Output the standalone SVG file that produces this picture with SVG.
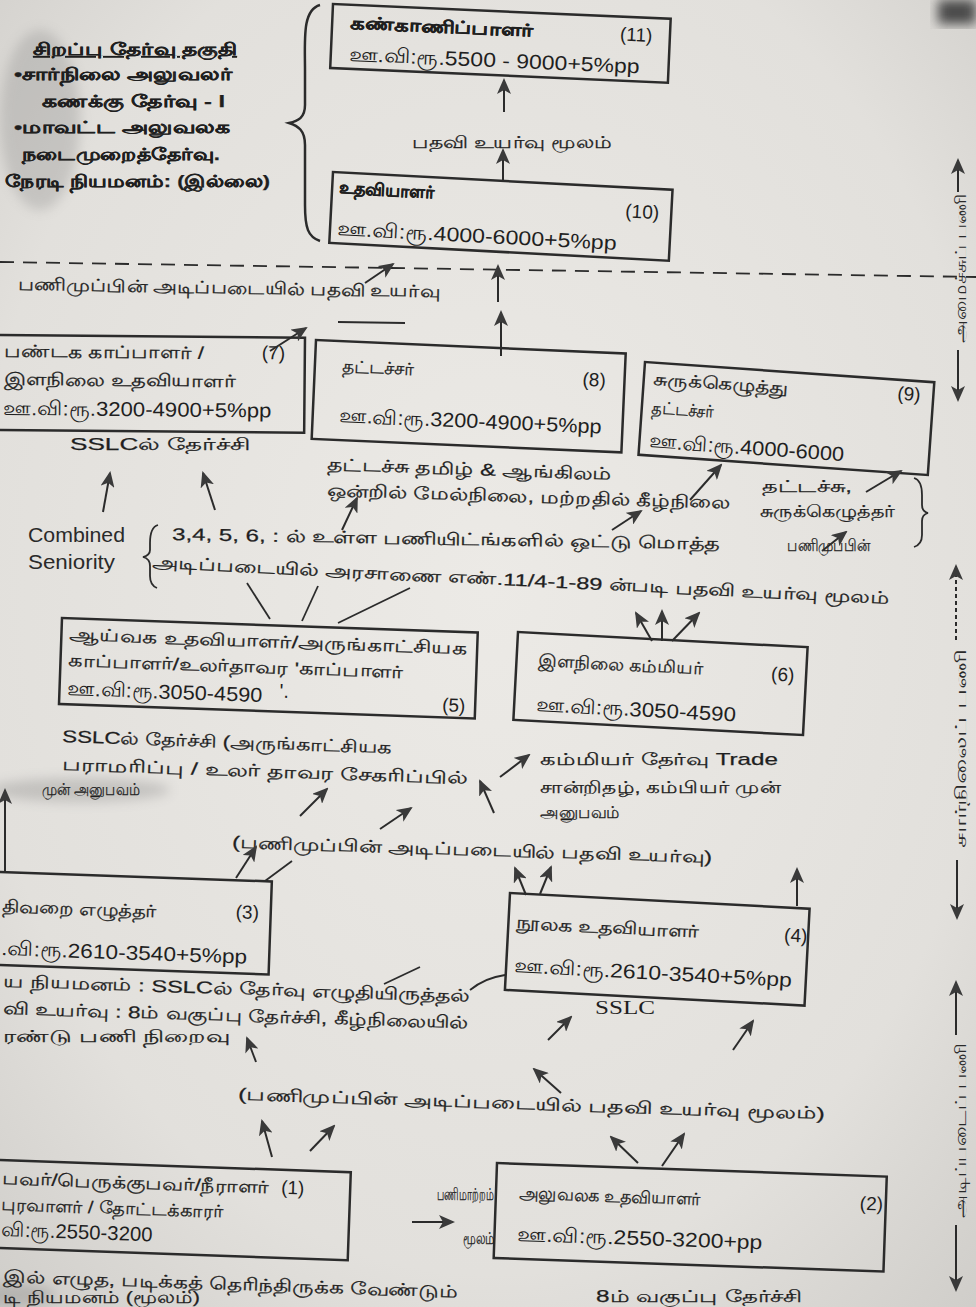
<svg xmlns="http://www.w3.org/2000/svg" width="976" height="1307" viewBox="0 0 976 1307">
<defs>
<radialGradient id="paper" cx="0.5" cy="0.45" r="0.75">
<stop offset="0" stop-color="#eceae6"/>
<stop offset="0.7" stop-color="#e2e0dc"/>
<stop offset="1" stop-color="#cfcdc9"/>
</radialGradient>
<filter id="blur" x="-20%" y="-20%" width="140%" height="140%"><feGaussianBlur stdDeviation="6"/></filter>
<marker id="ah" markerUnits="userSpaceOnUse" markerWidth="16" markerHeight="14" refX="14" refY="7" orient="auto">
<path d="M0,0 L16,7 L0,14 L4,7 Z" fill="#3a3a3a"/>
</marker>
<style>
.t{font-family:"Liberation Sans","Noto Sans",sans-serif;font-size:17px;fill:#1f1f1f;stroke:#1f1f1f;stroke-width:0.25}
.b{font-weight:bold}
.sal{font-family:"Liberation Sans Narrow","Liberation Sans","Noto Sans",sans-serif;font-size:20px;fill:#1f1f1f}
.num{font-family:"Liberation Sans Narrow","Liberation Sans",sans-serif;font-size:19px;fill:#1f1f1f}
.ser{font-family:"Liberation Serif","Noto Sans",serif;font-size:18px;fill:#1f1f1f}
.nar{font-family:"Liberation Sans Narrow","Liberation Sans",sans-serif;font-size:20px;fill:#2a2a2a}
.box{fill:none;stroke:#2b2b2b;stroke-width:2.5}
.arr{stroke:#2b2b2b;stroke-width:2;fill:none;marker-end:url(#ah)}
.ln{stroke:#2b2b2b;stroke-width:1.8;fill:none}
.br{stroke:#2b2b2b;stroke-width:2.5;fill:none}
.vt{font-family:"Liberation Sans","Noto Sans",sans-serif;font-size:16px;fill:#2a2a2a}
</style>
</defs>

<rect x="0" y="0" width="976" height="1307" fill="url(#paper)"/>
<g id="smudges" filter="url(#blur)" opacity="0.25">
<ellipse cx="40" cy="120" rx="40" ry="90" fill="#777"/>
<ellipse cx="80" cy="790" rx="90" ry="12" fill="#666"/>
<ellipse cx="15" cy="1295" rx="40" ry="12" fill="#666"/>
</g>
<rect x="938" y="0" width="38" height="24" fill="#4a4a4a" filter="url(#blur)"/>

<g id="notes">
<text class="t b" x="33" y="55" text-decoration="underline" textLength="204" lengthAdjust="spacingAndGlyphs">சிறப்பு தேர்வு தகுதி</text>
<text class="t b" x="14" y="80" textLength="218" lengthAdjust="spacingAndGlyphs">•சார்நிலை அலுவலர்</text>
<text class="t b" x="42" y="107" textLength="183" lengthAdjust="spacingAndGlyphs">கணக்கு தேர்வு - I</text>
<text class="t b" x="14" y="133" textLength="216" lengthAdjust="spacingAndGlyphs">•மாவட்ட அலுவலக</text>
<text class="t b" x="22" y="160" textLength="198" lengthAdjust="spacingAndGlyphs">நடைமுறைத்தேர்வு.</text>
<text class="t b" x="5" y="187" textLength="265" lengthAdjust="spacingAndGlyphs">நேரடி நியமனம்: (இல்லை)</text>
</g>

<g id="braces">
<path class="br" d="M320,5 C302,10 305,40 305,70 L305,105 C305,118 298,121 289,123 C298,126 305,130 305,145 L305,205 C305,228 308,237 320,241"/>
<path class="ln" d="M158,525 C151,527 150,535 150,543 L150,550 C150,554 147,556 143,557 C147,558 150,561 150,566 L150,576 C150,582 152,586 157,588"/>
<path class="ln" d="M914,478 C921,480 922,488 922,495 L922,505 C922,510 924,512 928,513 C924,514 922,516 922,521 L922,535 C922,541 920,545 914,547"/>
</g>

<g id="n11" transform="translate(333,4) rotate(2.5)">
<rect class="box" x="0" y="0" width="338" height="64"/>
<text class="t b" x="18" y="24" textLength="183" lengthAdjust="spacingAndGlyphs">கண்காணிப்பாளர்</text>
<text class="num" x="288" y="24">(11)</text>
<text class="sal" x="18" y="56" textLength="291" lengthAdjust="spacingAndGlyphs">ஊ.வி:ரூ.5500 - 9000+5%pp</text>
</g>

<g id="n10" transform="translate(333,172) rotate(3)">
<rect class="box" x="0" y="0" width="340" height="71"/>
<text class="t b" x="7" y="21" textLength="95" lengthAdjust="spacingAndGlyphs">உதவியாளர்</text>
<text class="num" x="294" y="30" font-size="17">(10)</text>
<text class="sal" x="7" y="63" textLength="280" lengthAdjust="spacingAndGlyphs">ஊ.வி:ரூ.4000-6000+5%pp</text>
</g>

<g id="n7" transform="translate(0,335) rotate(0.5)">
<rect class="box" x="-6" y="0" width="311" height="95"/>
<text class="t" x="4" y="22" textLength="200" lengthAdjust="spacingAndGlyphs">பண்டக காப்பாளர் /</text>
<text class="num" x="262" y="22">(7)</text>
<text class="t" x="4" y="50" textLength="232" lengthAdjust="spacingAndGlyphs">இளநிலை உதவியாளர்</text>
<text class="sal" x="4" y="80" textLength="268" lengthAdjust="spacingAndGlyphs">ஊ.வி:ரூ.3200-4900+5%pp</text>
</g>

<g id="n8" transform="translate(316,340) rotate(2.5)">
<rect class="box" x="0" y="0" width="310" height="99"/>
<text class="t" x="27" y="31" textLength="72" lengthAdjust="spacingAndGlyphs">தட்டச்சர்</text>
<text class="num" x="268" y="34">(8)</text>
<text class="sal" x="27" y="81" textLength="262" lengthAdjust="spacingAndGlyphs">ஊ.வி:ரூ.3200-4900+5%pp</text>
</g>

<g id="n9" transform="translate(645,362) rotate(4)">
<rect class="box" x="0" y="0" width="290" height="93"/>
<text class="t" x="10" y="22" textLength="135" lengthAdjust="spacingAndGlyphs">சுருக்கெழுத்து</text>
<text class="num" x="254" y="20" font-size="17">(9)</text>
<text class="t" x="10" y="51" textLength="62" lengthAdjust="spacingAndGlyphs">தட்டச்சர்</text>
<text class="sal" x="10" y="85" textLength="195" lengthAdjust="spacingAndGlyphs">ஊ.வி:ரூ.4000-6000</text>
</g>

<g id="n5" transform="translate(62,618) rotate(2)">
<rect class="box" x="0" y="0" width="416" height="86"/>
<text class="t" x="8" y="22" textLength="398" lengthAdjust="spacingAndGlyphs">ஆய்வக உதவியாளர்/அருங்காட்சியக</text>
<text class="t" x="8" y="48" textLength="335" lengthAdjust="spacingAndGlyphs">காப்பாளர்/உலர்தாவர 'காப்பாளர்</text>
<text class="sal" x="8" y="77" textLength="195" lengthAdjust="spacingAndGlyphs">ஊ.வி:ரூ.3050-4590</text>
<text class="sal" x="220" y="72">'.</text>
<text class="num" x="383" y="80">(5)</text>
</g>

<g id="n6" transform="translate(518,632) rotate(3)">
<rect class="box" x="0" y="0" width="290" height="88"/>
<text class="t" x="22" y="33" textLength="165" lengthAdjust="spacingAndGlyphs">இளநிலை கம்மியர்</text>
<text class="num" x="255" y="35">(6)</text>
<text class="sal" x="22" y="78" textLength="200" lengthAdjust="spacingAndGlyphs">ஊ.வி:ரூ.3050-4590</text>
</g>

<g id="n3" transform="translate(0,872) rotate(2)">
<rect class="box" x="-6" y="0" width="278" height="93"/>
<text class="t" x="3" y="40" textLength="155" lengthAdjust="spacingAndGlyphs">திவறை எழுத்தர்</text>
<text class="num" x="237" y="38">(3)</text>
<text class="sal" x="4" y="83" textLength="246" lengthAdjust="spacingAndGlyphs">.வி:ரூ.2610-3540+5%pp</text>
</g>

<g id="n4" transform="translate(510,893) rotate(3)">
<rect class="box" x="0" y="0" width="300" height="97"/>
<text class="t" x="8" y="35" textLength="183" lengthAdjust="spacingAndGlyphs">நூலக உதவியாளர்</text>
<text class="num" x="276" y="34">(4)</text>
<text class="sal" x="8" y="79" textLength="278" lengthAdjust="spacingAndGlyphs">ஊ.வி:ரூ.2610-3540+5%pp</text>
</g>

<g id="n1" transform="translate(0,1160) rotate(2)">
<rect class="box" x="-6" y="0" width="357" height="88"/>
<text class="t" x="3" y="24" textLength="267" lengthAdjust="spacingAndGlyphs">பவர்/பெருக்குபவர்/நீராளர்</text>
<text class="num" x="282" y="24" font-size="21">(1)</text>
<text class="t" x="3" y="50" textLength="222" lengthAdjust="spacingAndGlyphs">புரவாளர் / தோட்டக்காரர்</text>
<text class="sal" x="4" y="76" textLength="151" lengthAdjust="spacingAndGlyphs">வி:ரூ.2550-3200</text>
</g>

<g id="n2" transform="translate(497,1163) rotate(2)">
<rect class="box" x="0" y="0" width="390" height="95"/>
<text class="t" x="23" y="35" textLength="182" lengthAdjust="spacingAndGlyphs">அலுவலக உதவியாளர்</text>
<text class="num" x="364" y="34" font-size="13">(2)</text>
<text class="sal" x="23" y="77" textLength="245" lengthAdjust="spacingAndGlyphs">ஊ.வி:ரூ.2550-3200+pp</text>
</g>

<g id="labels">
<text class="t" x="412" y="148" textLength="200" lengthAdjust="spacingAndGlyphs">பதவி உயர்வு மூலம்</text>
<text class="t" x="18" y="290" transform="rotate(1 18 290)" textLength="422" lengthAdjust="spacingAndGlyphs">பணிமுப்பின் அடிப்படையில் பதவி உயர்வு</text>
<text class="t" x="70" y="450" textLength="180" lengthAdjust="spacingAndGlyphs">SSLCல் தேர்ச்சி</text>
<text class="t" x="327" y="470" transform="rotate(2 327 470)" textLength="285" lengthAdjust="spacingAndGlyphs">தட்டச்சு தமிழ் &amp; ஆங்கிலம்</text>
<text class="t" x="327" y="496" transform="rotate(1.8 327 496)" textLength="403" lengthAdjust="spacingAndGlyphs">ஒன்றில் மேல்நிலை, மற்றதில் கீழ்நிலை</text>
<text class="t" x="762" y="492" textLength="90" lengthAdjust="spacingAndGlyphs">தட்டச்சு,</text>
<text class="t" x="760" y="517" textLength="135" lengthAdjust="spacingAndGlyphs">சுருக்கெழுத்தர்</text>
<text class="nar" x="28" y="542" textLength="97" lengthAdjust="spacingAndGlyphs">Combined</text>
<text class="nar" x="28" y="569" textLength="87" lengthAdjust="spacingAndGlyphs">Seniority</text>
<text class="t" x="172" y="540" transform="rotate(1 172 540)" textLength="548" lengthAdjust="spacingAndGlyphs">3,4, 5, 6, : ல் உள்ள பணியிட்ங்களில் ஒட்டு மொத்த</text>
<text class="t" x="787" y="551" textLength="83" lengthAdjust="spacingAndGlyphs">பணிமுபபின்</text>
<text class="t" x="152" y="568" transform="rotate(2.8 152 568)" textLength="738" lengthAdjust="spacingAndGlyphs">அடிப்படையில் அரசாணை எண்.11/4-1-89 ன்படி பதவி உயர்வு மூலம்</text>
<text class="t" x="62" y="742" transform="rotate(2 62 742)" textLength="330" lengthAdjust="spacingAndGlyphs">SSLCல் தேர்ச்சி (அருங்காட்சியக</text>
<text class="t" x="62" y="770" transform="rotate(2 62 770)" textLength="406" lengthAdjust="spacingAndGlyphs">பராமரிப்பு / உலர் தாவர சேகரிப்பில்</text>
<text class="t" x="42" y="795" textLength="98" lengthAdjust="spacingAndGlyphs">முன் அனுபவம்</text>
<text class="t" x="540" y="765" textLength="238" lengthAdjust="spacingAndGlyphs">கம்மியர் தேர்வு Trade</text>
<text class="t" x="540" y="793" textLength="240" lengthAdjust="spacingAndGlyphs">சான்றிதழ், கம்பியர் முன்</text>
<text class="t" x="540" y="818" textLength="80" lengthAdjust="spacingAndGlyphs">அனுபவம்</text>
<text class="t" x="232" y="848" transform="rotate(1.8 232 848)" textLength="480" lengthAdjust="spacingAndGlyphs">(பணிமுப்பின் அடிப்படையில் பதவி உயர்வு)</text>
<text class="ser" x="595" y="1014" textLength="60" lengthAdjust="spacingAndGlyphs">SSLC</text>
<text class="t" x="3" y="987" transform="rotate(1.8 3 987)" textLength="467" lengthAdjust="spacingAndGlyphs">ய நியமனம் : SSLCல் தேர்வு எழுதியிருத்தல்</text>
<text class="t" x="3" y="1014" transform="rotate(1.8 3 1014)" textLength="465" lengthAdjust="spacingAndGlyphs">வி உயர்வு : 8ம் வகுப்பு தேர்ச்சி, கீழ்நிலையில்</text>
<text class="t" x="3" y="1042" textLength="227" lengthAdjust="spacingAndGlyphs">ரண்டு பணி நிறைவு</text>
<text class="t" x="238" y="1100" transform="rotate(1.9 238 1100)" textLength="587" lengthAdjust="spacingAndGlyphs">(பணிமுப்பின் அடிப்படையில் பதவி உயர்வு மூலம்)</text>
<text class="t" x="437" y="1200" font-size="15" textLength="57" lengthAdjust="spacingAndGlyphs">பணிமாற்றம்</text>
<text class="t" x="463" y="1244" font-size="15" textLength="32" lengthAdjust="spacingAndGlyphs">மூலம்</text>
<text class="t" x="3" y="1282" transform="rotate(2 3 1282)" textLength="455" lengthAdjust="spacingAndGlyphs">இல் எழுத, படிக்கத் தெரிந்திருக்க வேண்டும்</text>
<text class="t" x="3" y="1303" textLength="197" lengthAdjust="spacingAndGlyphs">டி நியமனம் (மூலம்)</text>
<text class="t" x="596" y="1302" textLength="206" lengthAdjust="spacingAndGlyphs">8ம் வகுப்பு தேர்ச்சி</text>
</g>

<g id="side">
<text class="vt" x="966" y="268" text-anchor="middle" transform="rotate(-90 966 268)" textLength="150" lengthAdjust="spacingAndGlyphs">அமைச்சுப் பணி</text>
<text class="vt" x="966" y="748" text-anchor="middle" transform="rotate(-90 966 748)" textLength="200" lengthAdjust="spacingAndGlyphs">சார்நிலைப் பணி</text>
<text class="vt" x="966" y="1130" text-anchor="middle" transform="rotate(-90 966 1130)" textLength="175" lengthAdjust="spacingAndGlyphs">அடிப்படைப் பணி</text>
</g>

<g id="connectors">
<path class="arr" d="M958,192 L958,160"/>
<path class="arr" d="M958,350 L958,400"/>
<path class="arr" d="M956,640 L956,566" stroke-dasharray="4 3"/>
<path class="arr" d="M957,860 L957,918"/>
<path class="arr" d="M956,1035 L956,982"/>
<path class="arr" d="M956,1225 L956,1290"/>
<path class="ln" d="M0,262 L976,277" stroke-dasharray="14 9"/>
<path class="ln" d="M338,322 L405,323"/>
<path class="arr" d="M504,112 L504,80"/>
<path class="arr" d="M503,182 L503,150"/>
<path class="arr" d="M498,302 L498,266"/>
<path class="arr" d="M501,356 L501,312"/>
<path class="arr" d="M365,283 L393,264"/>
<path class="arr" d="M270,351 L306,328"/>
<path class="arr" d="M103,512 L110,473"/>
<path class="arr" d="M215,510 L203,473"/>
<path class="arr" d="M342,530 L357,498"/>
<path class="arr" d="M690,500 L721,465"/>
<path class="arr" d="M866,492 L901,471"/>
<path class="arr" d="M612,530 L641,511"/>
<path class="arr" d="M822,551 L846,532"/>
<path class="ln" d="M247,583 L270,619"/>
<path class="ln" d="M318,586 L302,621"/>
<path class="ln" d="M410,588 L338,623"/>
<path class="arr" d="M652,641 L636,613"/>
<path class="arr" d="M662,641 L662,611"/>
<path class="arr" d="M672,641 L699,613"/>
<path class="arr" d="M500,777 L529,755"/>
<path class="arr" d="M494,813 L480,781"/>
<path class="arr" d="M300,816 L327,789"/>
<path class="arr" d="M380,829 L411,808"/>
<path class="arr" d="M236,878 L256,847"/>
<path class="ln" d="M265,881 L292,861"/>
<path class="arr" d="M5,871 L5,790"/>
<path class="arr" d="M526,895 L515,868"/>
<path class="arr" d="M540,894 L551,867"/>
<path class="arr" d="M797,906 L797,869"/>
<path class="ln" d="M384,984 L420,967" stroke-width="1.2"/>
<path class="ln" d="M470,990 C480,982 490,977 505,975" stroke-width="1.2"/>
<path class="arr" d="M548,1040 L571,1017"/>
<path class="arr" d="M733,1050 L753,1021"/>
<path class="arr" d="M561,1093 L534,1069"/>
<path class="arr" d="M256,1062 L247,1038"/>
<path class="arr" d="M272,1157 L262,1121"/>
<path class="arr" d="M310,1151 L334,1126"/>
<path class="arr" d="M638,1163 L611,1137"/>
<path class="arr" d="M662,1166 L684,1134"/>
<path class="arr" d="M412,1222 L453,1222"/>
</g>
</svg>
